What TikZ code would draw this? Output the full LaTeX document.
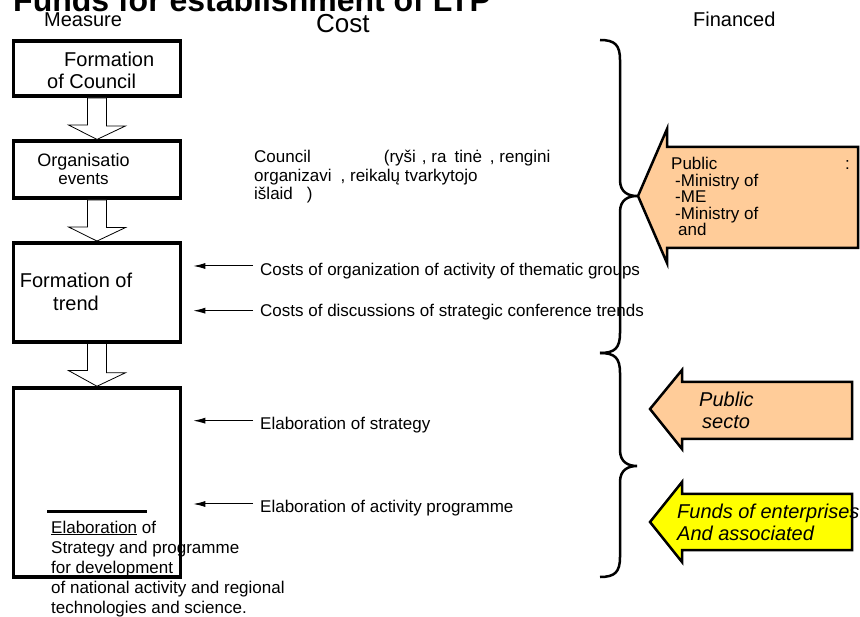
\documentclass[tikz,border=0pt]{standalone}
\usepackage{fontspec}
\setmainfont{Liberation Sans}
\usetikzlibrary{arrows.meta,calc}
\definecolor{saumon}{RGB}{255,204,153}
\definecolor{jaune}{RGB}{255,255,0}

\def\largeur{167pt}
\def\centre{97}

\begin{document}
\begin{tikzpicture}[x=1pt,y=-1pt]
\tikzstyle{boite}=[draw,line width=3.5pt,minimum width=\largeur,inner sep=0]
\tikzstyle{titre}=[inner sep=0,anchor=base west,font=\fontsize{20}{22}\selectfont]
\tikzstyle{texte}=[inner sep=0,anchor=base west,font=\fontsize{17}{20}\selectfont]
\tikzstyle{creuse}=[draw,fill=white,line width=0.8pt]
\tikzstyle{fleche}=[-{Latex[length=12pt,width=6pt]},line width=1pt,shorten >=11pt]
\tikzstyle{accolade}=[line width=2.5pt]
\tikzstyle{bloc}=[draw,line width=2.5pt,line join=miter]

\useasboundingbox (0,0) rectangle (860,617);
\clip (0,0) rectangle (860,617);

% en-tetes
\node[titre,font=\fontsize{32}{34}\selectfont\bfseries] (titre) at (13,12) {Funds for establishment of LTP};
\node[titre] (mesure) at (44,27) {Measure};
\node[titre,font=\fontsize{26}{28}\selectfont] (cout) at (316,33) {Cost};
\node[titre] (finance) at (693,27) {Financed};

% mesures
\node[boite,minimum height=55pt] (b1) at (\centre,68.7) {};
\node[boite,minimum height=57pt] (b2) at (\centre,169.7) {};
\node[boite,minimum height=99pt] (b3) at (\centre,292.3) {};
\node[boite,minimum height=189pt] (b4) at (\centre,482.5) {};

% (base = derniere ligne)
\node[titre,align=left] (t1) at (47,88.5) {\hspace*{17pt}Formation\\of Council};
\node[titre,align=center,anchor=base,font=\fontsize{18}{18}\selectfont] (t2) at (83.5,185) {Organisatio\\{\fontsize{17}{18}\selectfont events}};
\node[titre,align=center,anchor=base,font=\fontsize{20}{23}\selectfont] (t3) at (76,311) {Formation of\\trend};
\draw[line width=3pt] (47,512) -- (147,512);
\node[texte,align=left] (t4) at (51,613) {\underline{Elaboration} of\\Strategy and programme\\for development\\of national activity and regional\\technologies and science.};

\draw[creuse] ($(b1.south)+(-9.5,0)$) -- ++(0,27) -- ++(-19,0) -- (b2.north) -- ++(28.5,-13.5) -- ++(-19,0) -- ($(b1.south)+(9.5,0)$) -- cycle;
\draw[creuse] ($(b2.south)+(-9.5,0)$) -- ++(0,27) -- ++(-19,0) -- (b3.north) -- ++(28.5,-13.5) -- ++(-19,0) -- ($(b2.south)+(9.5,0)$) -- cycle;
\draw[creuse] ($(b3.south)+(-9.5,0)$) -- ++(0,27) -- ++(-19,0) -- (b4.north) -- ++(28.5,-13.5) -- ++(-19,0) -- ($(b3.south)+(9.5,0)$) -- cycle;

% couts
\node[texte,align=left,font=\fontsize{17}{18.5}\selectfont] (conseil) at (254,200) {Council\hspace*{73pt}(ryši\hspace*{6pt}, ra\hspace*{8pt}tinė\hspace*{8pt}, rengini\\organizavi\hspace*{9pt}, reikalų tvarkytojo\\išlaid\hspace*{14pt})};
\node[texte] (c1) at (260,276) {Costs of organization of activity of thematic groups};
\node[texte] (c2) at (260,317) {Costs of discussions of strategic conference trends};
\node[texte] (c3) at (260,430) {Elaboration of strategy};
\node[texte] (c4) at (260,513) {Elaboration of activity programme};

\coordinate (q1) at (253,266);
\coordinate (q2) at (253,310.7);
\coordinate (q3) at (253,420.7);
\coordinate (q4) at (253,504);
\draw[fleche] (q1) -- (q1 -| b3.east);
\draw[fleche] (q2) -- (q2 -| b3.east);
\draw[fleche] (q3) -- (q3 -| b4.east);
\draw[fleche] (q4) -- (q4 -| b4.east);

% accolades
\draw[accolade] (600,40) .. controls (615,40) and (620,45) .. (620,60) -- (620,180) .. controls (620,192) and (628,196) .. (637,196) .. controls (628,196) and (620,200) .. (620,212) -- (620,333) .. controls (620,348) and (615,353) .. (600,353);
\draw[accolade] (600,353) .. controls (615,353) and (620,358) .. (620,373) -- (620,450) .. controls (620,462) and (628,466) .. (637,466) .. controls (628,466) and (620,470) .. (620,482) -- (620,557) .. controls (620,572) and (615,577) .. (600,577);

% financement
\draw[bloc,fill=saumon] (858,147) -- (667,147) -- (667,129) -- (638,196) -- (667,263) -- (667,248) -- (858,248) -- cycle;
\node[texte,align=left,font=\fontsize{17}{16.5}\selectfont] (public) at (671,236) {Public\\\hspace*{4pt}-Ministry of\\\hspace*{4pt}-ME\\\hspace*{4pt}-Ministry of\\\hspace*{7pt}and};
\node[texte] (deuxpts) at (845,170) {:};

\draw[bloc,fill=saumon] (852,382) -- (682,382) -- (682,370) -- (650,409) -- (682,449) -- (682,439) -- (852,439) -- cycle;
\node[texte,align=left,font=\fontsize{20}{22.5}\selectfont\itshape] (secteur) at (699,429) {Public\\\hspace*{3pt}secto};

\draw[bloc,fill=jaune] (852,494) -- (682,494) -- (682,482) -- (650,522) -- (682,562) -- (682,550) -- (852,550) -- cycle;
\node[texte,align=left,font=\fontsize{20}{22.5}\selectfont\itshape] (fonds) at (677,540.5) {Funds of enterprises\\And associated};

\end{tikzpicture}
\end{document}
